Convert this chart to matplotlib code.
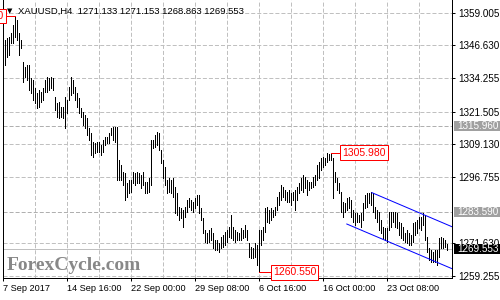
import matplotlib
matplotlib.use("Agg")
import matplotlib.pyplot as plt
import matplotlib.transforms as mtransforms
from matplotlib.patches import Rectangle

plt.rcParams['font.family'] = ['Liberation Sans', 'DejaVu Sans']
plt.rcParams['lines.scale_dashes'] = False

# --- values (one entry per 4h bar) ---
SYMBOL = 'XAUUSD,H4'
LAST_OHLC = [1271.133, 1271.153, 1268.863, 1269.553]

bar_high = [
    1339.2, 1348.6, 1349.4, 1349.8, 1351.3, 1354.3, 1357.7, 1356.2, 1351.3, 1348.6,
    1340.3, 1338.4, 1339.2, 1339.2, 1334.2, 1333.5, 1330.4, 1328.5, 1329.7, 1328.9,
    1330.4, 1333.5, 1334.6, 1334.2, 1334.6, 1334.2, 1327.0, 1324.8, 1325.1, 1323.2,
    1323.2, 1327.0, 1325.9, 1330.8, 1334.6, 1333.5, 1330.8, 1328.5, 1326.7, 1322.9,
    1321.4, 1320.2, 1319.1, 1315.3, 1313.4, 1310.0, 1309.6, 1310.0, 1310.0, 1308.8,
    1310.7, 1311.9, 1311.9, 1313.4, 1315.3, 1315.7, 1315.7, 1315.7, 1303.2, 1301.3,
    1298.6, 1298.2, 1294.4, 1295.6, 1295.6, 1298.6, 1298.2, 1298.6, 1298.2, 1297.5,
    1298.6, 1294.8, 1294.8, 1296.3, 1310.7, 1310.7, 1312.6, 1313.8, 1313.4, 1306.9,
    1303.2, 1300.5, 1295.6, 1296.3, 1295.6, 1296.3, 1292.9, 1290.6, 1285.3, 1285.0,
    1284.2, 1285.3, 1288.0, 1288.8, 1288.0, 1287.2, 1288.8, 1289.9, 1289.9, 1285.0,
    1281.2, 1276.6, 1275.5, 1276.6, 1277.4, 1275.5, 1272.8, 1272.8, 1271.7, 1274.0,
    1274.7, 1275.9, 1276.6, 1277.8, 1282.3, 1277.8, 1276.6, 1275.9, 1275.5, 1277.4,
    1276.6, 1278.5, 1276.6, 1271.7, 1270.2, 1269.8, 1271.7, 1270.9, 1276.6, 1276.6,
    1277.8, 1285.0, 1285.3, 1284.2, 1285.0, 1284.2, 1285.3, 1289.1, 1291.0, 1293.7,
    1292.9, 1291.8, 1291.0, 1291.8, 1290.6, 1291.0, 1291.8, 1292.9, 1294.4, 1296.3,
    1297.5, 1296.7, 1295.6, 1294.8, 1294.8, 1296.7, 1297.5, 1301.3, 1302.4, 1303.9,
    1304.3, 1303.9, 1305.8, 1305.6, 1305.98, 1303.9, 1298.6, 1296.3, 1294.4, 1291.0,
    1287.2, 1286.9, 1288.8, 1289.1, 1288.0, 1284.2, 1283.1, 1283.1, 1282.3, 1283.1,
    1286.9, 1289.9, 1290.6, 1290.6, 1291.0, 1290.6, 1285.3, 1284.2, 1283.4, 1280.4,
    1277.8, 1277.4, 1277.4, 1283.4, 1283.4, 1283.4, 1283.4, 1283.1, 1279.7, 1279.3,
    1277.8, 1275.5, 1276.6, 1275.5, 1274.7, 1279.3, 1279.7, 1280.4, 1281.6, 1281.6,
    1283.1, 1282.3, 1274.0, 1269.8, 1269.0, 1268.3, 1269.0, 1269.0, 1273.6, 1274.0,
    1273.6, 1272.8, 1271.153,
]

bar_low = [
    1334.2, 1339.2, 1342.2, 1343.0, 1347.5, 1347.5, 1349.8, 1348.6, 1343.0, 1345.6,
    1332.7, 1334.6, 1333.5, 1329.7, 1328.5, 1325.9, 1324.8, 1322.9, 1323.2, 1325.1,
    1325.9, 1328.9, 1328.9, 1329.7, 1330.4, 1329.7, 1322.1, 1319.5, 1319.1, 1319.5,
    1319.1, 1315.3, 1321.0, 1325.9, 1327.8, 1328.5, 1325.9, 1323.2, 1321.0, 1319.5,
    1316.5, 1315.3, 1312.6, 1310.7, 1305.1, 1304.3, 1305.8, 1306.2, 1306.2, 1305.1,
    1306.2, 1308.8, 1309.6, 1309.6, 1312.6, 1310.7, 1310.0, 1295.6, 1295.6, 1295.6,
    1293.7, 1288.0, 1289.1, 1290.6, 1291.0, 1294.4, 1293.7, 1294.4, 1294.4, 1292.5,
    1293.7, 1290.6, 1290.6, 1291.0, 1293.7, 1307.7, 1308.1, 1308.8, 1306.9, 1302.0,
    1296.3, 1293.7, 1290.6, 1291.0, 1290.6, 1289.1, 1283.1, 1282.3, 1280.4, 1281.2,
    1277.8, 1281.6, 1283.4, 1285.3, 1284.2, 1283.4, 1285.0, 1286.1, 1283.1, 1280.4,
    1275.5, 1272.1, 1271.7, 1272.1, 1272.8, 1269.8, 1269.0, 1269.0, 1268.3, 1269.8,
    1270.2, 1270.9, 1272.1, 1274.0, 1273.6, 1272.8, 1272.1, 1272.8, 1272.8, 1272.8,
    1273.6, 1274.0, 1272.8, 1266.4, 1266.0, 1266.0, 1266.4, 1263.4, 1260.55, 1270.9,
    1272.8, 1275.9, 1279.7, 1279.3, 1280.4, 1281.6, 1282.3, 1284.2, 1286.1, 1288.0,
    1289.1, 1288.0, 1287.2, 1287.2, 1286.1, 1288.0, 1284.2, 1288.0, 1290.6, 1291.8,
    1291.0, 1292.5, 1289.9, 1291.8, 1292.5, 1292.9, 1293.7, 1295.6, 1296.3, 1299.4,
    1300.5, 1301.3, 1302.4, 1303.2, 1303.2, 1288.8, 1294.8, 1291.8, 1290.6, 1283.4,
    1281.6, 1283.4, 1284.2, 1285.0, 1281.6, 1279.7, 1278.5, 1279.7, 1279.7, 1277.8,
    1280.4, 1285.0, 1285.3, 1286.9, 1286.1, 1283.4, 1281.2, 1279.7, 1276.6, 1275.5,
    1273.6, 1272.8, 1272.1, 1276.6, 1277.8, 1279.7, 1277.8, 1277.4, 1274.7, 1273.6,
    1272.8, 1272.1, 1271.7, 1270.9, 1270.9, 1272.1, 1274.7, 1275.5, 1277.4, 1276.6,
    1278.5, 1272.8, 1268.3, 1265.3, 1264.5, 1264.5, 1264.5, 1263.4, 1266.4, 1269.8,
    1269.8, 1270.2, 1268.863,
]

date_labels = ['7 Sep 2017', '14 Sep 16:00', '22 Sep 00:00', '29 Sep 08:00',
               '6 Oct 16:00', '16 Oct 00:00', '23 Oct 08:00']
date_label_bars = [0, 32, 64, 96, 128, 160, 192]
price_ticks = [1259.255, 1271.630, 1296.755, 1309.130, 1321.505,
               1334.255, 1346.630, 1359.005]
level_lines = [1315.960, 1283.590]
bid_price = 1269.553

# labelled swings: (bar index, price, label)
swing_top_left = (6, 1357.7, '1357.700')
swing_high = (164, 1305.98, '1305.980')
swing_low = (128, 1260.55, '1260.550')

# descending channel, (bar, price) end points
channel_upper = [(184.4, 1290.8), (224.7, 1277.8)]
channel_lower = [(171.9, 1278.9), (224.7, 1261.9)]

GRID = '#c0c0c0'
DASH = (0, (2.9, 1.45))
PX = 0.72  # one pixel in points at dpi 100

fig = plt.figure(figsize=(5, 3), dpi=100)
fig.patch.set_facecolor('white')
ax = fig.add_axes([0.005, 0.0717, 0.8996, 0.9283])
ax.set_xlim(-0.25, 224.65)
ax.set_ylim(1258.25, 1363.8)

bars = range(len(bar_high))
ax.vlines(bars, bar_low, bar_high, colors='black', linewidth=PX,
          antialiased=False, zorder=3)

# grid and level lines
for p in price_ticks:
    ax.axhline(p, color=GRID, lw=PX, ls=DASH, zorder=1)
for p in level_lines:
    ax.axhline(p, color='#b0b0b0', lw=PX, ls=DASH, zorder=1)
for b in range(16, 209, 16):
    ax.axvline(b, color=GRID, lw=PX, ls=DASH, zorder=1)
ax.axhline(bid_price, color=GRID, lw=PX, zorder=1)

# channel
for ch in (channel_upper, channel_lower):
    ax.plot([ch[0][0], ch[1][0]], [ch[0][1], ch[1][1]], color='#0000ff',
            lw=PX, zorder=4)

# red swing labels
box = dict(boxstyle='square,pad=0.2', fc='white', ec='#ff0000', lw=PX)
bx, by, bt = swing_high
ax.plot([bx, bx + 4.5], [by, by], color='#ff0000', lw=PX, zorder=4)
ax.text(bx + 5.7, by, bt, color='#ff0000', fontsize=7.5, va='center',
        ha='left', bbox=box, zorder=6)
bx, by, bt = swing_low
ax.plot([bx, bx + 5.8], [by, by], color='#ff0000', lw=PX, zorder=4)
ax.text(bx + 7.0, by, bt, color='#ff0000', fontsize=7.5, va='center',
        ha='left', bbox=box, zorder=6, clip_on=False)
bx, by, bt = swing_top_left
ax.plot([bx - 4.5, bx], [by, by], color='#ff0000', lw=PX, zorder=4)
ax.text(bx - 5.7, by, bt, color='#ff0000', fontsize=7.5, va='center',
        ha='right', bbox=box, zorder=6, clip_on=False)

# axes styling
for s in ('left', 'bottom', 'right'):
    ax.spines[s].set_linewidth(PX)
    ax.spines[s].set_color('black')
ax.spines['top'].set_visible(False)

ax.yaxis.tick_right()
ax.set_yticks(price_ticks, [f'{p:.3f}' for p in price_ticks])
ax.tick_params(axis='y', length=2.2, width=PX, pad=2.0, labelsize=7.1)
ax.set_xticks(date_label_bars, date_labels)
ax.tick_params(axis='x', length=2.2, width=PX, pad=1.5, labelsize=6.6)
for lbl in ax.get_xticklabels():
    lbl.set_horizontalalignment('left')

# right-side price boxes
tr = mtransforms.blended_transform_factory(fig.transFigure, ax.transData)
for p, fc in [(level_lines[0], '#a0a0a0'), (level_lines[1], '#a0a0a0'),
              (bid_price, 'black')]:
    ax.add_patch(Rectangle((454 / 500, p - 1.9), 46 / 500, 3.8, transform=tr,
                           facecolor=fc, edgecolor='none', clip_on=False,
                           zorder=7))
    ax.text(457.5 / 500, p, f'{p:.3f}', transform=tr, color='white',
            fontsize=7.1, va='center', ha='left', zorder=8, clip_on=False)

# header and watermark
fig.text(9.7 / 500, 1 - 11 / 300, '\u25bc', fontsize=5, ha='center',
         va='center', family='DejaVu Sans')
fig.text(18 / 500, 1 - 11 / 300,
         SYMBOL + '  ' + ' '.join(f'{v:.3f}' for v in LAST_OHLC),
         fontsize=6.8, va='center', ha='left')
fig.text(6.7 / 500, 1 - 270 / 300, 'ForexCycle.com', family='Liberation Serif',
         weight='bold', fontsize=14, color='#888888', va='baseline',
         ha='left', zorder=0)

fig.savefig('out.png', dpi=100)
